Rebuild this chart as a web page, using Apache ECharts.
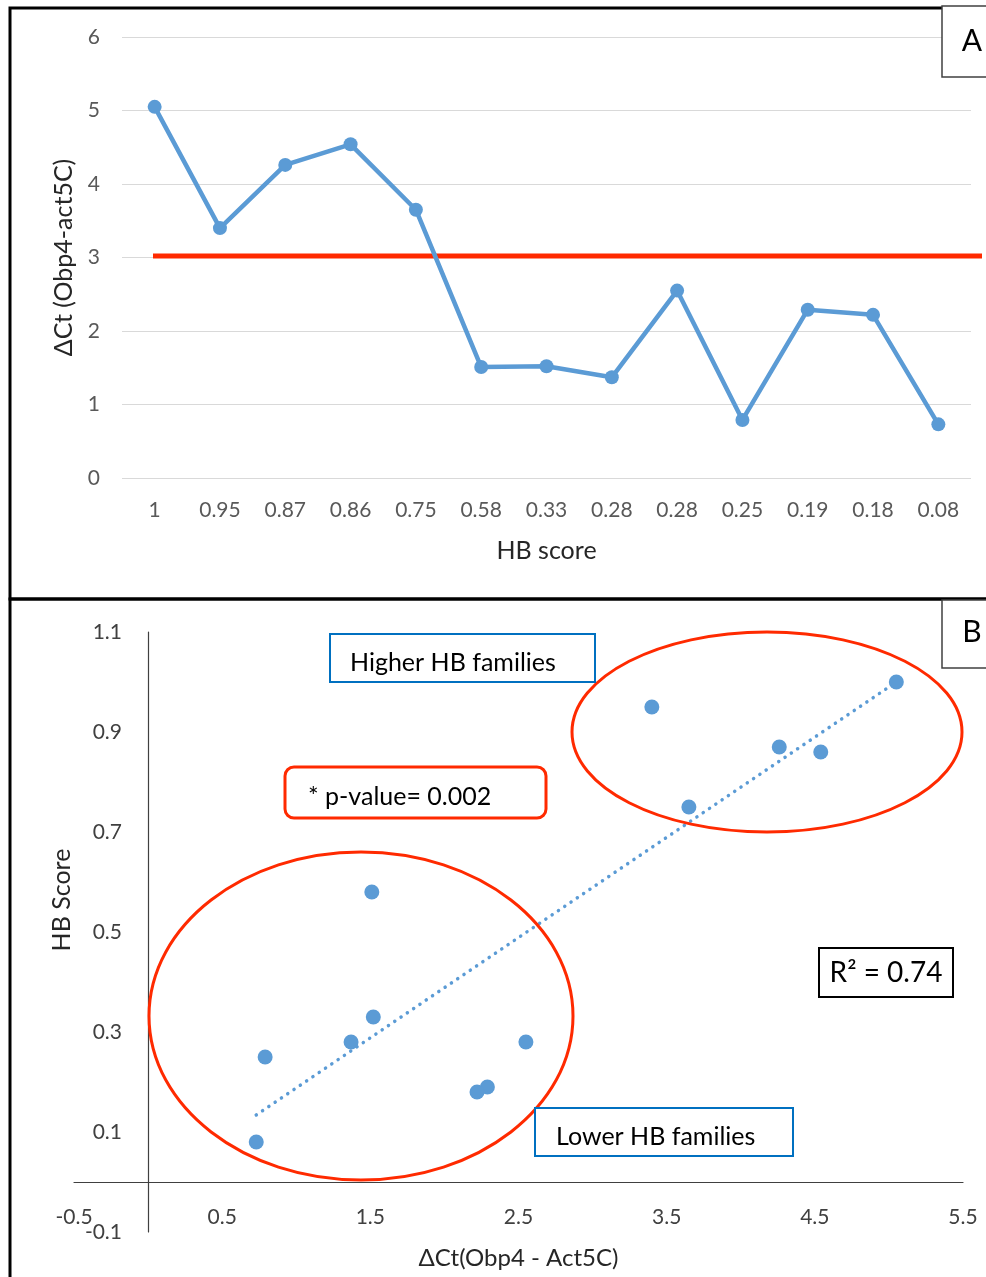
<!DOCTYPE html>
<html><head><meta charset="utf-8">
<script src="https://cdn.jsdelivr.net/npm/echarts@6/dist/echarts.min.js"></script>
<style>html,body{margin:0;padding:0;background:#fff}#c{width:986px;height:1277px}</style>
</head><body><div id="c"></div>
<script>
// Panel A categories (HB score labels) and ΔCt values
const hbLabels = ['1','0.95','0.87','0.86','0.75','0.58','0.33','0.28','0.28','0.25','0.19','0.18','0.08'];
const hbScore  = [1, 0.95, 0.87, 0.86, 0.75, 0.58, 0.33, 0.28, 0.28, 0.25, 0.19, 0.18, 0.08];
const deltaCt  = [5.05, 3.40, 4.26, 4.54, 3.65, 1.51, 1.52, 1.37, 2.55, 0.79, 2.29, 2.22, 0.73];
// Threshold line value
const threshold = 3.02;
// Panel B trend line endpoints (ΔCt, HB score)
const trendLine = [[0.73, 0.134], [5.05, 1.0]];
// Texts
const annotations = {
  higher: 'Higher HB families',
  lower: 'Lower HB families',
  pvalue: '* p-value= 0.002',
  r2: 'R² = 0.74'
};

const FONT = 'Lato, "Open Sans", sans-serif';
const BLUE = '#5b9bd5';
const RED = '#ff2a00';

const chart = echarts.init(document.getElementById('c'), null, {renderer: 'canvas'});

const scatterData = hbScore.map((h, i) => [deltaCt[i], h]);

chart.setOption({
  animation: false,
  backgroundColor: '#fff',
  textStyle: {fontFamily: FONT},
  grid: [
    {left: 122, right: 15, top: 37, height: 441, outerBoundsMode: 'none', containLabel: false},
    {left: 74, right: 23, top: 632, height: 600, outerBoundsMode: 'none', containLabel: false},
    {left: 153, right: 4, top: 37, height: 441, outerBoundsMode: 'none', containLabel: false}
  ],
  xAxis: [
    {
      gridIndex: 0, type: 'category', data: hbLabels, boundaryGap: true,
      axisLine: {show: false}, axisTick: {show: false},
      axisLabel: {color: '#595959', fontSize: 21, margin: 22, fontFamily: FONT},
      name: 'HB score', nameLocation: 'middle', nameGap: 60, nameMoveOverlap: false,
      nameTextStyle: {color: '#262626', fontSize: 25, fontFamily: FONT}
    },
    {
      gridIndex: 2, type: 'value', min: 0, max: 1, show: false
    },
    {
      gridIndex: 1, type: 'value', min: -0.5, max: 5.5, interval: 0.5,
      axisLine: {onZero: true, lineStyle: {color: '#404040', width: 1.2}},
      axisTick: {show: false}, splitLine: {show: false},
      axisLabel: {
        color: '#404040', fontSize: 21, margin: -25, fontFamily: FONT,
        formatter: v => (Math.abs(Math.round(v * 2)) % 2 === 1) ? String(v) : ''
      },
      name: 'ΔCt(Obp4 - Act5C)', nameLocation: 'middle', nameGap: 14, nameMoveOverlap: false,
      nameTextStyle: {color: '#262626', fontSize: 24, fontFamily: FONT}
    }
  ],
  yAxis: [
    {
      gridIndex: 0, type: 'value', min: 0, max: 6, interval: 1,
      axisLine: {show: false}, axisTick: {show: false},
      splitLine: {lineStyle: {color: '#d9d9d9', width: 1.2}},
      axisLabel: {color: '#595959', fontSize: 21, margin: 22, fontFamily: FONT},
      name: 'ΔCt (Obp4-act5C)', nameLocation: 'middle', nameGap: 46, nameMoveOverlap: false,
      nameTextStyle: {color: '#262626', fontSize: 25, fontFamily: FONT}
    },
    {
      gridIndex: 1, type: 'value', min: -0.1, max: 1.1, interval: 0.1,
      axisLine: {show: true, onZero: true, lineStyle: {color: '#404040', width: 1.2}},
      axisTick: {show: false}, splitLine: {show: false},
      axisLabel: {
        color: '#404040', fontSize: 21, margin: -48, fontFamily: FONT,
        formatter: v => (Math.abs(Math.round(v * 10)) % 2 === 1) ? v.toFixed(1) : ''
      },
      name: 'HB Score', nameLocation: 'middle', nameGap: 0, nameMoveOverlap: false,
      nameTextStyle: {color: '#262626', fontSize: 25, fontFamily: FONT, padding: [0, 0, 0, 64]}
    },
    {
      gridIndex: 2, type: 'value', min: 0, max: 6, show: false
    }
  ],
  series: [
    {
      type: 'line', xAxisIndex: 1, yAxisIndex: 2, clip: false,
      data: [[0, threshold], [1, threshold]],
      showSymbol: false, symbol: 'none',
      lineStyle: {color: RED, width: 5}, z: 1, silent: true
    },
    {
      type: 'line', xAxisIndex: 0, yAxisIndex: 0, data: deltaCt,
      symbol: 'circle', symbolSize: 14,
      itemStyle: {color: BLUE},
      lineStyle: {color: BLUE, width: 4.5}, z: 3
    },
    {
      type: 'line', xAxisIndex: 2, yAxisIndex: 1, data: trendLine,
      showSymbol: false, symbol: 'none',
      lineStyle: {color: BLUE, width: 3.5, type: [0.1, 7.5], cap: 'round'}, z: 2
    },
    {
      type: 'scatter', xAxisIndex: 2, yAxisIndex: 1, data: scatterData,
      symbolSize: 15, itemStyle: {color: BLUE, opacity: 1}, z: 3
    }
  ],
  graphic: [
    // ellipses
    {type: 'ellipse', shape: {cx: 767, cy: 732, rx: 195, ry: 100}, style: {fill: 'none', stroke: RED, lineWidth: 3}, z: 50},
    {type: 'ellipse', shape: {cx: 361, cy: 1016, rx: 212, ry: 164}, style: {fill: 'none', stroke: RED, lineWidth: 3}, z: 50},
    // Higher box
    {type: 'rect', shape: {x: 330, y: 634, width: 265, height: 48}, style: {fill: '#fff', stroke: '#0070c0', lineWidth: 2}, z: 60},
    {type: 'text', x: 350, y: 663, style: {text: annotations.higher, font: '25px ' + FONT, fill: '#000', verticalAlign: 'middle'}, z: 61},
    // Lower box
    {type: 'rect', shape: {x: 535, y: 1108, width: 258, height: 48}, style: {fill: '#fff', stroke: '#0070c0', lineWidth: 2}, z: 60},
    {type: 'text', x: 556, y: 1137, style: {text: annotations.lower, font: '25px ' + FONT, fill: '#000', verticalAlign: 'middle'}, z: 61},
    // p-value box
    {type: 'rect', shape: {x: 285, y: 767, width: 261, height: 51, r: 9}, style: {fill: '#fff', stroke: RED, lineWidth: 3}, z: 60},
    {type: 'text', x: 308, y: 797, style: {text: annotations.pvalue, font: '25px ' + FONT, fill: '#000', verticalAlign: 'middle'}, z: 61},
    // R2 box
    {type: 'rect', shape: {x: 819, y: 948, width: 134, height: 49}, style: {fill: '#fff', stroke: '#000', lineWidth: 2}, z: 60},
    {type: 'text', x: 886, y: 973, style: {text: annotations.r2, font: '28px ' + FONT, fill: '#000', align: 'center', verticalAlign: 'middle'}, z: 61},
    // panel borders
    {type: 'rect', shape: {x: 10, y: 8, width: 1000, height: 591}, style: {fill: 'none', stroke: '#000', lineWidth: 3}, z: 90},
    {type: 'rect', shape: {x: 10, y: 599, width: 1000, height: 700}, style: {fill: 'none', stroke: '#000', lineWidth: 3}, z: 90},
    // A / B label boxes
    {type: 'rect', shape: {x: 942, y: 6, width: 60, height: 71}, style: {fill: '#fff', stroke: '#404040', lineWidth: 1.5}, z: 95},
    {type: 'text', x: 972, y: 41, style: {text: 'A', font: '30px ' + FONT, fill: '#000', align: 'center', verticalAlign: 'middle'}, z: 96},
    {type: 'rect', shape: {x: 942, y: 600, width: 60, height: 68}, style: {fill: '#fff', stroke: '#404040', lineWidth: 1.5}, z: 95},
    {type: 'text', x: 972, y: 632, style: {text: 'B', font: '30px ' + FONT, fill: '#000', align: 'center', verticalAlign: 'middle'}, z: 96}
  ]
});
</script>
</body></html>
